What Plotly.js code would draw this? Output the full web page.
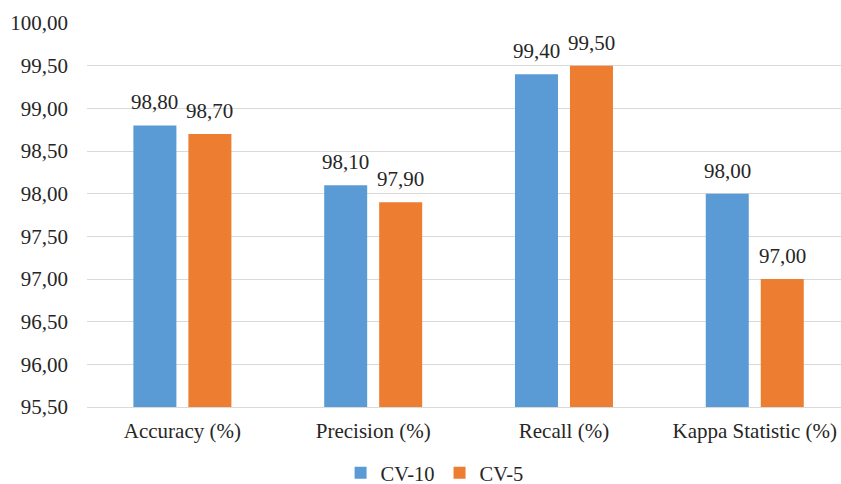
<!DOCTYPE html>
<html>
<head>
<meta charset="utf-8">
<script src="https://cdn.plot.ly/plotly-3.0.1.min.js"></script>
<style>html,body{margin:0;padding:0;background:#fff;}</style>
</head>
<body>
<div id="chart" style="width:841px;height:484px;"></div>
<script>
const categories = ['Accuracy (%)', 'Precision (%)', 'Recall (%)', 'Kappa Statistic (%)'];
const seriesNames = ['CV-10', 'CV-5'];
const cv10 = [98.80, 98.10, 99.40, 98.00];
const cv5 = [98.70, 97.90, 99.50, 97.00];
const tickVals = [95.5, 96, 96.5, 97, 97.5, 98, 98.5, 99, 99.5, 100];
const colors = ['#5B9BD5', '#ED7D31'];

function mkFont(size) {
  return {family: 'Liberation Serif, Times New Roman, serif', size: size || 21, color: '#262626'};
}

const series = [cv10, cv5];
const traces = series.map((vals, i) => ({
  type: 'bar', name: seriesNames[i], x: categories, y: vals,
  marker: {color: colors[i]}, hoverinfo: 'none'
}));

const annotations = [];
series.forEach((vals, i) => {
  vals.forEach((v, j) => {
    annotations.push({
      x: categories[j], y: v, xref: 'x', yref: 'y',
      text: v.toFixed(2).replace('.', ','),
      showarrow: false, yanchor: 'bottom', xanchor: 'center',
      xshift: i === 0 ? -27.5 : 27.5, yshift: 9, font: mkFont(21)
    });
  });
});

const layout = {
  width: 841, height: 484,
  margin: {l: 87, r: 0, t: 23, b: 77, autoexpand: false},
  separators: ',.',
  font: mkFont(21),
  paper_bgcolor: '#fff', plot_bgcolor: '#fff',
  barmode: 'group', bargap: 0.4235, bargroupgap: 0.218,
  showlegend: true,
  legend: {orientation: 'h', x: 0.461, xanchor: 'center', y: -0.172, yanchor: 'middle', font: mkFont(20.5), itemwidth: 30},
  annotations: annotations,
  xaxis: {range: [-0.5, 3.452], showgrid: false, showline: true, linecolor: '#d9d9d9', ticks: '', tickfont: mkFont(21), ticklabelstandoff: 5},
  yaxis: {range: [95.5, 100], tickvals: tickVals, tickformat: '.2f', showgrid: true, gridcolor: '#d9d9d9', gridwidth: 1,
          zeroline: false, showline: false, ticks: '', tickfont: mkFont(21), ticklabelstandoff: 18}
};

Plotly.newPlot('chart', traces, layout, {displayModeBar: false, staticPlot: true});
</script>
</body>
</html>
